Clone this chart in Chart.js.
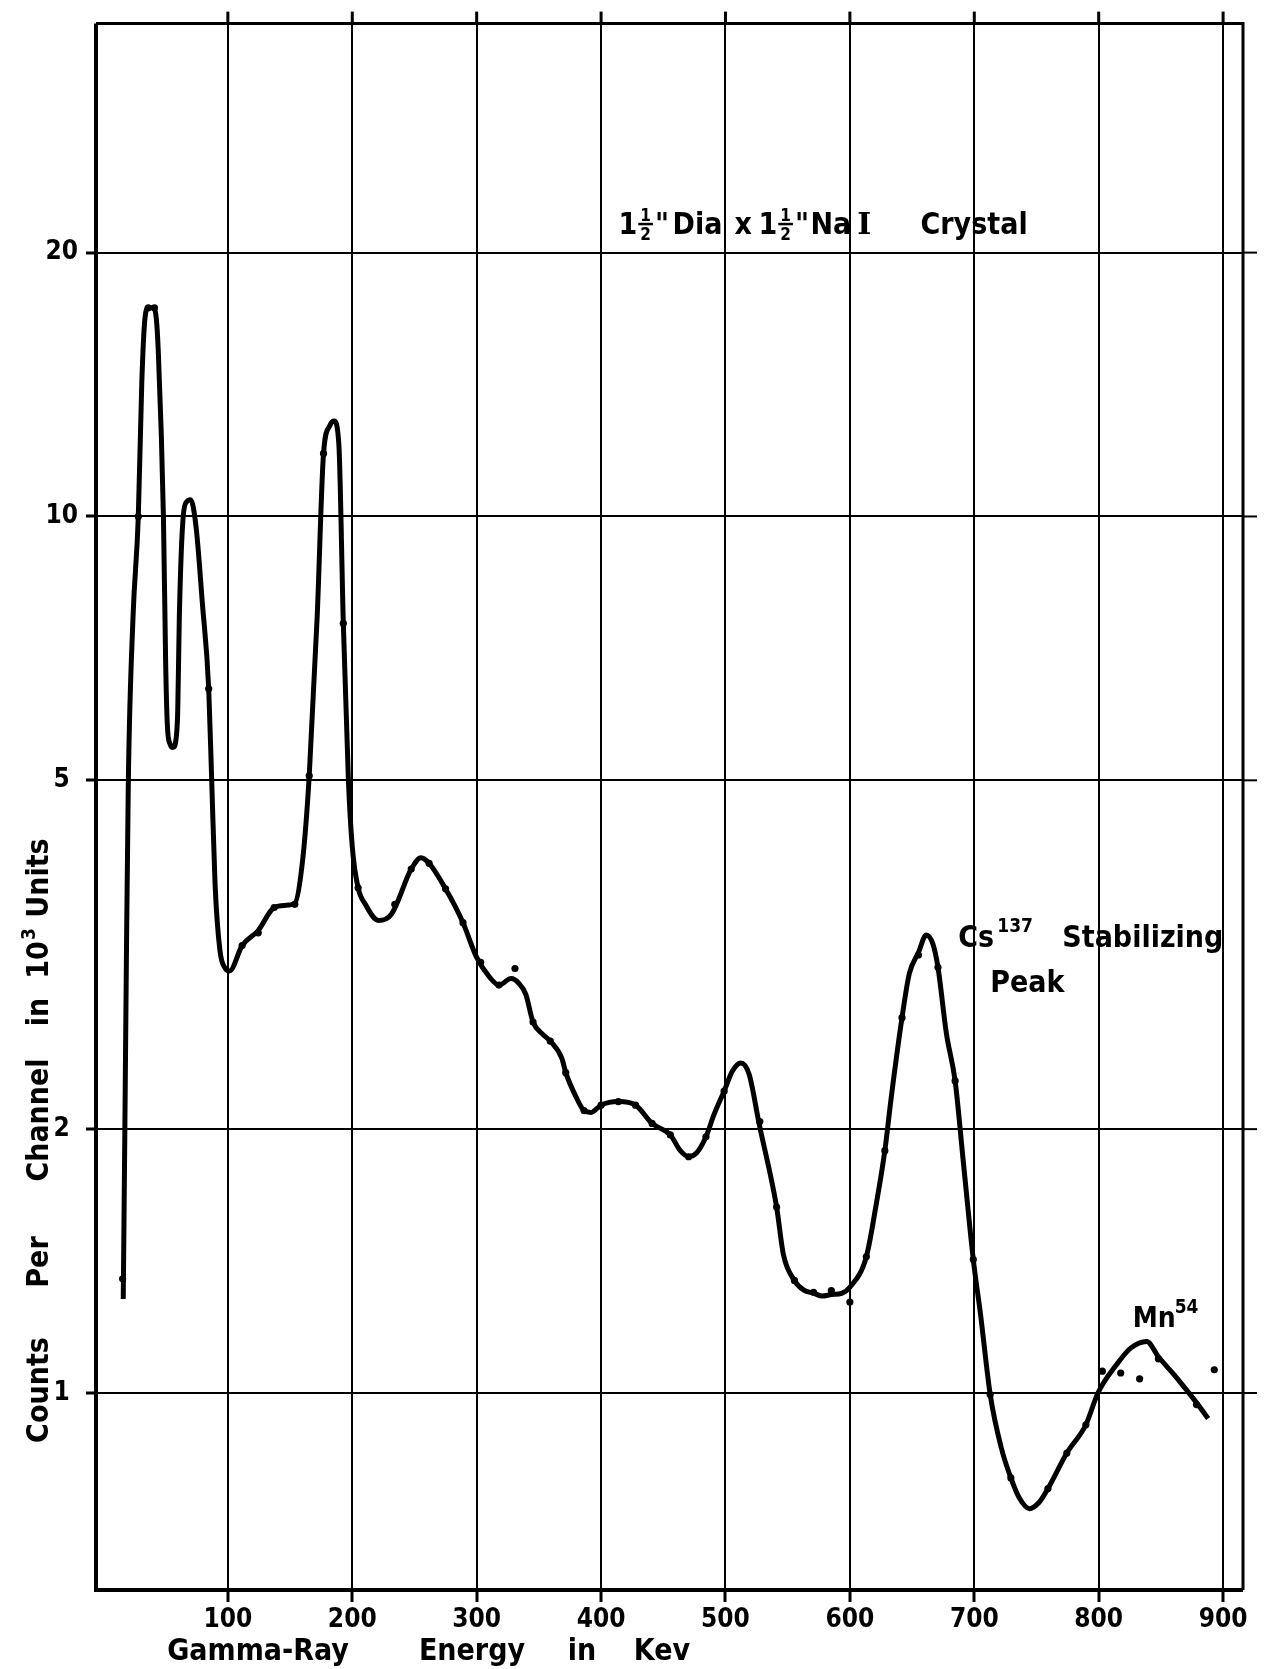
<!DOCTYPE html>
<html>
<head>
<meta charset="utf-8">
<script src="https://cdn.jsdelivr.net/npm/chart.js@4.4.1/dist/chart.umd.min.js"></script>
<style>
html,body{margin:0;padding:0;background:#fff;}
#wrap{width:1268px;height:1669px;position:relative;}
canvas{display:block;}
</style>
</head>
<body>
<div id="wrap"><canvas id="c" width="1268" height="1669"></canvas></div>
<script>
// ---- data ----
const xTicks = [100, 200, 300, 400, 500, 600, 700, 800, 900];
const yTicks = [1, 2, 5, 10, 20];

// smooth drawn curve (keV, counts per channel in 10^3)
const curveKeV = [15.9, 17.2, 18.5, 20.0, 23.8, 28.0, 30.8, 33.3, 36, 40, 42.5, 44, 48.2, 50.0, 51.3, 53.5, 55.9, 58.5, 59.7, 61.0,
  64.1, 67, 70, 74.4, 79.5, 84.6, 87.0, 89.7, 93.6, 98, 101.3, 111.5, 124.4, 137.2, 146, 153.8, 160.3, 165.4, 171.8, 176.9,
  182, 185.4, 189.2, 192.8, 196.9, 200, 204.7, 210.5, 221, 231.6, 247.4, 255.3, 261.8, 275, 289, 300, 310.5, 317.9, 327.6, 334.2,
  339.5, 345.3, 352.6, 359.2, 368.4, 371.6, 379, 386.3, 392, 400, 413.9, 427.7, 441, 455.7, 463.7, 470.4, 477, 484.3, 490.9, 498.9,
  505.6, 512.3, 519, 527, 541.1, 546.5, 555.4, 563, 570.8, 577.6, 585.1, 593.8, 600, 613.2, 620.8, 628.1, 633, 641.9, 647.8, 655.1,
  661.4, 666.8, 670.8, 677.6, 684.6, 691.1, 699.2, 705, 712.8, 721.7, 729.4, 736, 744.4, 752, 759.2, 774.4, 789.7, 799.4, 814.3, 825.7,
  838.6, 848, 862.9, 878.6, 888];
const curveCounts = [1.28, 2.0, 3.2, 5.0, 7.7, 10.0, 14.2, 16.8, 17.3, 17.3, 16.8, 15.5, 10.0, 6.8, 5.8, 5.5, 5.45, 5.6, 6.0, 7.7,
  10.0, 10.4, 10.45, 9.74, 7.96, 6.36, 5.0, 3.81, 3.2, 3.05, 3.03, 3.24, 3.37, 3.58, 3.6, 3.62, 4.08, 5.06, 7.69, 11.8,
  12.7, 12.85, 12.1, 7.55, 5.0, 4.2, 3.77, 3.61, 3.46, 3.52, 3.96, 4.08, 4.02, 3.76, 3.44, 3.14, 2.98, 2.92, 2.97, 2.93,
  2.85, 2.65, 2.57, 2.52, 2.41, 2.32, 2.19, 2.10, 2.09, 2.13, 2.15, 2.13, 2.03, 1.97, 1.89, 1.86, 1.88, 1.96, 2.08, 2.21,
  2.33, 2.38, 2.31, 2.03, 1.63, 1.44, 1.344, 1.31, 1.30, 1.29, 1.295, 1.30, 1.32, 1.43, 1.63, 1.89, 2.16, 2.68, 3.01, 3.18,
  3.33, 3.25, 3.06, 2.57, 2.27, 1.84, 1.42, 1.23, 0.996, 0.866, 0.80, 0.76, 0.738, 0.75, 0.778, 0.854, 0.92, 1.0, 1.077, 1.125,
  1.145, 1.10, 1.04, 0.975, 0.935];

// measured points (dots)
const pointKeV = [15.4, 28, 36, 41, 84.6, 111.5, 124.4, 137.2, 153.8, 165.4, 176.9, 192.8, 204.7, 234.2, 247.4, 261.8, 275, 289,
  303.2, 317.9, 330.8, 345.3, 359.2, 371.6, 386.3, 400, 413.9, 427.7, 441, 455.7, 470.4, 484.3, 498.9, 527.6, 541.1, 555.4,
  570.8, 585.1, 600, 613.2, 628.1, 641.9, 655.1, 670.8, 684.6, 699.2, 712.8, 729.4, 759.2, 774.4, 789.7, 802.9, 817.7, 832.9,
  848, 878.6, 892.9];
const pointCounts = [1.35, 10.0, 17.3, 17.3, 6.36, 3.24, 3.35, 3.58, 3.61, 5.06, 11.8, 7.55, 3.77, 3.61, 3.96, 4.02, 3.76, 3.44,
  3.10, 2.92, 3.05, 2.65, 2.52, 2.32, 2.10, 2.13, 2.15, 2.13, 2.03, 1.97, 1.86, 1.96, 2.21, 2.04, 1.63, 1.344,
  1.303, 1.309, 1.27, 1.43, 1.89, 2.68, 3.16, 3.06, 2.27, 1.42, 0.996, 0.80, 0.778, 0.854, 0.92, 1.059, 1.054, 1.038,
  1.094, 0.97, 1.063];

const X_MIN = -6, X_MAX = 916;
const Y_MIN = 0.596, Y_MAX = 36.5;

const FONT = '"DejaVu Sans Condensed", "DejaVu Sans", sans-serif';
const SERIF = '"DejaVu Serif", serif';

function txt(ctx, s, x, y, size, align, family) {
  ctx.font = 'bold ' + size + 'px ' + (family || FONT);
  ctx.textAlign = align || 'left';
  ctx.textBaseline = 'alphabetic';
  ctx.fillText(s, x, y);
  return ctx.measureText(s).width;
}

// draws "1" + stacked 1/2 fraction + inch mark, starting at x, baseline y
function drawOneHalf(ctx, x, y, size) {
  let w = txt(ctx, '1', x, y, size);
  const fx = x + w + 1;
  const small = Math.round(size * 0.55);
  ctx.font = 'bold ' + small + 'px ' + FONT;
  const fw = ctx.measureText('2').width + 4;
  txt(ctx, '1', fx + fw / 2, y - size * 0.42, small, 'center');
  ctx.fillRect(fx, y - size * 0.36, fw, 2.5);
  txt(ctx, '2', fx + fw / 2, y + size * 0.2, small, 'center');
  txt(ctx, '"', fx + fw + 2, y, size);
}

const framePlugin = {
  id: 'frame',
  afterDatasetsDraw(chart) {
    const ctx = chart.ctx, a = chart.chartArea;
    const xs = chart.scales.x, ys = chart.scales.y;
    ctx.save();
    ctx.strokeStyle = '#000';
    ctx.fillStyle = '#000';
    ctx.lineCap = 'butt';
    // stubs above top border at x gridlines
    ctx.lineWidth = 3;
    xTicks.forEach(v => {
      const px = xs.getPixelForValue(v);
      ctx.beginPath(); ctx.moveTo(px, a.top - 12); ctx.lineTo(px, a.top); ctx.stroke();
    });
    // y gridlines continue past right border
    ctx.lineWidth = 2;
    yTicks.forEach(v => {
      const py = ys.getPixelForValue(v);
      ctx.beginPath(); ctx.moveTo(a.right, py); ctx.lineTo(a.right + 14, py); ctx.stroke();
    });
    // frame
    ctx.lineWidth = 4;
    ctx.beginPath();
    ctx.moveTo(a.left, a.top); ctx.lineTo(a.left, a.bottom); ctx.lineTo(a.right, a.bottom);
    ctx.stroke();
    ctx.lineWidth = 3;
    ctx.beginPath();
    ctx.moveTo(a.left, a.top); ctx.lineTo(a.right, a.top); ctx.lineTo(a.right, a.bottom);
    ctx.stroke();
    ctx.restore();
  }
};

const textPlugin = {
  id: 'labels',
  afterDraw(chart) {
    const ctx = chart.ctx;
    const xs = chart.scales.x, ys = chart.scales.y;
    ctx.save();
    ctx.fillStyle = '#000';

    // crystal title
    const tx = xs.getPixelForValue(414), ty = ys.getPixelForValue(20) - 19;
    drawOneHalf(ctx, tx, ty, 30);
    txt(ctx, 'Dia', tx + 54, ty, 30);
    txt(ctx, 'x', tx + 116, ty, 30);
    drawOneHalf(ctx, tx + 140, ty, 30);
    const naW = txt(ctx, 'Na', tx + 192, ty, 30);
    txt(ctx, 'I', tx + 192 + naW + 6, ty, 30, 'left', SERIF);
    txt(ctx, 'Crystal', tx + 302, ty, 30);

    // Cs-137 label
    const cx = xs.getPixelForValue(700), cy = ys.getPixelForValue(3);
    txt(ctx, 'Cs', cx - 16, cy - 28, 30);
    txt(ctx, '137', cx + 23, cy - 43, 19);
    txt(ctx, 'Stabilizing', cx + 88, cy - 28, 30);
    txt(ctx, 'Peak', cx + 16, cy + 17, 30);

    // Mn-54 label
    const mx = xs.getPixelForValue(800), my = ys.getPixelForValue(1);
    txt(ctx, 'Mn', mx + 34, my - 66, 28);
    txt(ctx, '54', mx + 76, my - 80, 19);

    // x axis title
    const xb = 1660;
    txt(ctx, 'Gamma-Ray', 258, xb, 30, 'center');
    txt(ctx, 'Energy', 472, xb, 30, 'center');
    txt(ctx, 'in', 582, xb, 30, 'center');
    txt(ctx, 'Kev', 662, xb, 30, 'center');

    // y axis title (rotated)
    ctx.translate(48, 0);
    ctx.rotate(-Math.PI / 2);
    const words = [['Counts', 1390], ['Per', 1262], ['Channel', 1120], ['in', 1012], ['Units', 878]];
    words.forEach(([w, c]) => txt(ctx, w, -c, 0, 30, 'center'));
    txt(ctx, '10', -960, 0, 30, 'center');
    txt(ctx, '3', -940, -13, 19, 'left');
    ctx.restore();
  }
};

const ctx = document.getElementById('c').getContext('2d');
new Chart(ctx, {
  type: 'line',
  data: {
    datasets: [
      {
        label: 'curve',
        data: curveKeV.map((x, i) => ({ x: x, y: curveCounts[i] })),
        borderColor: '#000',
        borderWidth: 5,
        pointRadius: 0,
        cubicInterpolationMode: 'monotone',
        fill: false,
        order: 2
      },
      {
        type: 'scatter',
        label: 'measured',
        data: pointKeV.map((x, i) => ({ x: x, y: pointCounts[i] })),
        pointRadius: 3.6,
        pointBackgroundColor: '#000',
        pointBorderColor: '#000',
        pointBorderWidth: 0,
        showLine: false,
        order: 1
      }
    ]
  },
  options: {
    responsive: false,
    animation: false,
    devicePixelRatio: 1,
    layout: { padding: { top: 22, right: 25, left: 0, bottom: 0 } },
    plugins: { legend: { display: false }, tooltip: { enabled: false }, title: { display: false } },
    scales: {
      x: {
        type: 'linear',
        min: X_MIN, max: X_MAX,
        afterBuildTicks: s => { s.ticks = xTicks.map(v => ({ value: v })); },
        afterFit: s => { s.height = 79; },
        grid: { color: '#000', lineWidth: 2, drawTicks: true, tickLength: 12, tickColor: '#000', tickWidth: 3 },
        border: { display: false },
        ticks: { color: '#000', font: { family: FONT, size: 26, weight: 'bold' }, padding: 3, maxRotation: 0, autoSkip: false,
                 callback: v => String(v) }
      },
      y: {
        type: 'logarithmic',
        min: Y_MIN, max: Y_MAX,
        afterBuildTicks: s => { s.ticks = yTicks.map(v => ({ value: v })); },
        afterFit: s => { s.width = 96; },
        grid: { color: '#000', lineWidth: 2, drawTicks: true, tickLength: 10, tickColor: '#000', tickWidth: 3 },
        border: { display: false },
        ticks: { color: '#000', font: { family: FONT, size: 26, weight: 'bold' }, padding: 8, autoSkip: false,
                 crossAlign: 'center', callback: v => String(v) }
      }
    }
  },
  plugins: [framePlugin, textPlugin]
});
</script>
</body>
</html>
